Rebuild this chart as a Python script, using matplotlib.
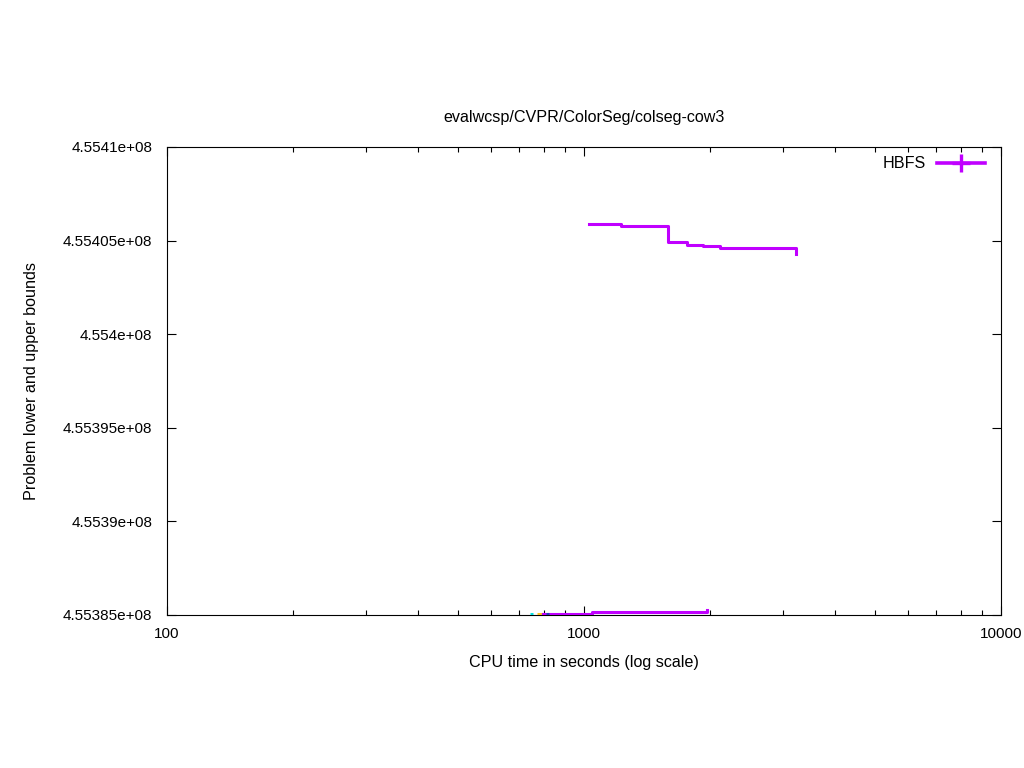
import matplotlib
matplotlib.use("Agg")
import matplotlib.pyplot as plt
from matplotlib.lines import Line2D
from matplotlib.ticker import FuncFormatter, FixedLocator, LogLocator, NullFormatter

plt.rcParams['font.family'] = ['Liberation Sans', 'DejaVu Sans']

# Data
ub_time = [1028, 1228, 1589, 1766, 1929, 2118, 3222]
ub_value = [455405887, 455405780, 455404925, 455404765, 455404685, 455404605, 455404284]

lb_time = [798, 1045, 1972]
lb_value = [455385050, 455385160, 455385270]

other_cyan_time = [741, 756]
other_cyan_value = [455385070, 455385070]
other_yellow_time = [771, 798]
other_yellow_value = [455385070, 455385070]
other_blue_time = [812, 822]
other_blue_value = [455385070, 455385070]

yticks = [455385000, 455390000, 455395000, 455400000, 455405000, 455410000]
xticks = [100, 1000, 10000]

purple = '#c000ff'

fig = plt.figure(figsize=(10.24, 7.68), dpi=100)
ax = fig.add_axes([167/1024, 1 - 615/768, (1001-167)/1024, (615-147)/768])

lw = 2.2
ax.plot(other_cyan_time, other_cyan_value, color='#00e0e0', lw=lw, solid_capstyle='butt', zorder=3)
ax.plot(other_yellow_time, other_yellow_value, color='#ffc020', lw=lw, solid_capstyle='butt', zorder=3)
ax.step(ub_time, ub_value, where='post', color=purple, lw=lw, zorder=3)
ax.step(lb_time, lb_value, where='post', color=purple, lw=lw, zorder=3)
ax.plot(other_blue_time, other_blue_value, color='#2040c0', lw=lw, solid_capstyle='butt', zorder=4)

ax.set_xscale('log')
ax.set_xlim(100, 10000)
ax.set_ylim(455385000, 455410000)

ax.xaxis.set_major_locator(FixedLocator(xticks))
ax.xaxis.set_major_formatter(FuncFormatter(lambda v, p: '%g' % v))
ax.xaxis.set_minor_locator(LogLocator(base=10, subs=range(2, 10)))
ax.xaxis.set_minor_formatter(NullFormatter())
ax.yaxis.set_major_locator(FixedLocator(yticks))
ax.yaxis.set_major_formatter(FuncFormatter(lambda v, p: '%g' % v))

fs = 11
fl = 11.6
ax.tick_params(which='both', direction='in', top=True, right=True, labelsize=fs, colors='black')
ax.tick_params(which='major', length=6.5, width=0.8)
ax.tick_params(axis='y', which='major', pad=10.5)
ax.tick_params(axis='x', which='major', pad=9)
ax.tick_params(which='minor', length=3.5, width=0.8)
for s in ax.spines.values():
    s.set_linewidth(0.8)

ax.set_title('evalwcsp/CVPR/ColorSeg/colseg-cow3', fontsize=fl, pad=18)
ax.set_xlabel('CPU time in seconds (log scale)', fontsize=fl, labelpad=10)
ax.set_ylabel('Problem lower and upper bounds', fontsize=fl, labelpad=17)

handle = Line2D([], [], color=purple, lw=2.6, marker='+', markersize=13, markeredgewidth=2.4)
ax.legend([handle], ['HBFS'], loc='center right',
          bbox_to_anchor=((985-167)/834, (615-164)/468),
          frameon=False, markerfirst=False, numpoints=1, handlelength=3.0,
          fontsize=fl, borderaxespad=0, borderpad=0, handletextpad=0.65)

fig.savefig('out.png', dpi=100)
